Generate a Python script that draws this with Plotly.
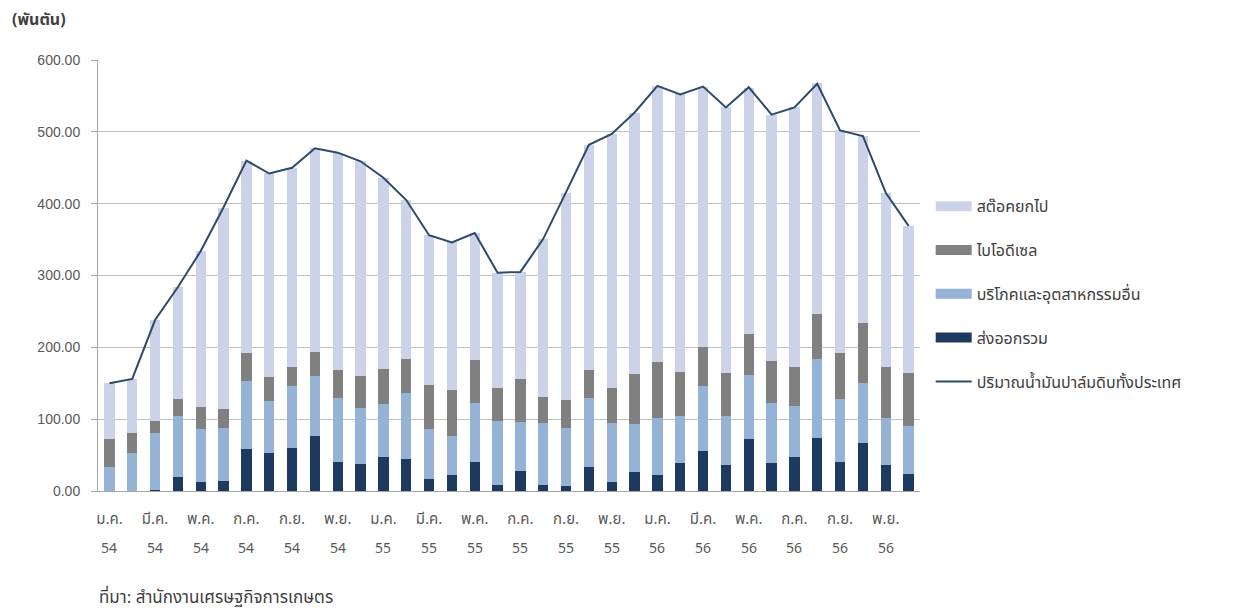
import plotly.graph_objects as go

months = ["ม.ค.", "ก.พ.", "มี.ค.", "เม.ย.", "พ.ค.", "มิ.ย.", "ก.ค.", "ส.ค.", "ก.ย.", "ต.ค.", "พ.ย.", "ธ.ค."]
years = ["54", "55", "56"]
categories = [f"{m} {y}" for y in years for m in months]

export_vals = [0, 0, 1, 19, 13, 14, 59, 53, 60, 77, 40, 37,
               47, 45, 17, 22, 41, 8, 28, 8, 7, 34, 13, 26,
               22, 39, 55, 36, 73, 39, 47, 74, 40, 67, 36, 24]
consume_vals = [33, 53.5, 79.5, 86, 73, 74, 94.5, 72.6, 86.5, 83.5, 88.8, 79,
                74, 92, 69, 54, 82, 90, 68, 87, 81, 95, 81, 67,
                80, 66, 91.5, 69, 88, 83.5, 71, 110, 88, 84, 65, 67]
biodiesel_vals = [39.5, 27, 17, 23.5, 31.5, 26.5, 38.5, 33.5, 26.5, 33.5, 39, 44.5,
                  49.5, 46.5, 61.5, 64.5, 59, 46, 60.5, 36.5, 38.5, 40, 49.5, 70.5,
                  77, 60, 54.5, 59, 58, 59, 54.5, 63, 63.5, 83, 72, 73]
stock_vals = [78, 75.5, 140, 156, 216, 280, 268, 283, 277, 283, 303, 298.5,
              265, 221, 208.5, 205.5, 177, 160, 148, 219, 289, 313, 353, 363,
              385, 387, 362, 370, 342.5, 342.5, 361.5, 320.5, 310.5, 260, 242, 205]
total_vals = [150, 156, 238, 284, 334, 395, 460, 442, 450, 477, 471, 459,
              436, 405, 356, 346, 359, 304, 305, 351, 416, 482, 497, 527,
              564, 552, 563, 534, 562, 524, 534, 567, 502, 494, 415, 369]

tick_cats = categories[::2]
tick_months = [c.split(" ")[0] for c in tick_cats]
tick_years = [c.split(" ")[1] for c in tick_cats]

FONT = "Tahoma, 'Noto Sans Thai', 'Leelawadee UI', Arial, sans-serif"
TXT = "#595959"

fig = go.Figure()
series = [
    ("ส่งออกรวม", export_vals, "#1F3A60", 4),
    ("บริโภคและอุตสาหกรรมอื่น", consume_vals, "#95B3D7", 3),
    ("ไบโอดีเซล", biodiesel_vals, "#808080", 2),
    ("สต๊อคยกไป", stock_vals, "#CCD3E8", 1),
]
for name, vals, color, rank in series:
    fig.add_trace(go.Bar(x=categories, y=vals, name=name, marker_color=color,
                         marker_line_width=0, showlegend=False, legendgroup=name))
    # legend swatch (wide rectangle like the original), carries no data
    fig.add_trace(go.Scatter(x=[None], y=[None], mode="lines", name=name,
                             line=dict(color=color, width=13), legendrank=rank,
                             legendgroup=name, hoverinfo="skip"))
fig.add_trace(go.Scatter(x=categories, y=total_vals, mode="lines",
                         name="ปริมาณน้ำมันปาล์มดิบทั้งประเทศ",
                         line=dict(color="#2E4A6B", width=2), legendrank=5,
                         legendgroup="line"))

for c, yv in zip(tick_cats, tick_years):
    fig.add_annotation(x=c, y=-0.133, xref="x", yref="paper", text=yv,
                       showarrow=False, font=dict(family=FONT, size=14, color=TXT),
                       yanchor="middle")

fig.add_annotation(x=-0.107, y=1.093, xref="paper", yref="paper", text="<b>(พันตัน)</b>",
                   showarrow=False, xanchor="left", yanchor="middle",
                   font=dict(family=FONT, size=16, color="#404040"))
fig.add_annotation(x=-0.001, y=-0.248, xref="paper", yref="paper",
                   text="ที่มา: สำนักงานเศรษฐกิจการเกษตร",
                   showarrow=False, xanchor="left", yanchor="middle",
                   font=dict(family=FONT, size=17, color="#404040"))

fig.update_layout(
    width=1242, height=613,
    barmode="stack", bargap=0.55,
    paper_bgcolor="white", plot_bgcolor="white",
    margin=dict(l=90, r=330, t=52, b=130),
    font=dict(family=FONT, size=13, color=TXT),
    legend=dict(x=1.013, y=0.70, xanchor="left", yanchor="top",
                font=dict(family=FONT, size=16, color="#404040"),
                tracegroupgap=20, itemwidth=36, bgcolor="rgba(0,0,0,0)"),
    xaxis=dict(type="category", tickmode="array", tickvals=tick_cats, ticktext=tick_months,
               showgrid=False, showline=True, linecolor="#A6A6A6", linewidth=1,
               ticks="", tickfont=dict(family=FONT, size=15, color=TXT), ticklabelstandoff=14,
               range=[-0.5, 35.5]),
    yaxis=dict(range=[0, 600], dtick=100, tickformat=".2f", showgrid=True,
               gridcolor="#BFBFBF", gridwidth=1, showline=True, linecolor="#A6A6A6",
               zeroline=False, tickfont=dict(family="Arial, 'Liberation Sans', sans-serif", size=14, color=TXT),
               ticks="outside", ticklen=6, tickcolor="#A6A6A6", ticklabelstandoff=8),
)

fig.write_html("out.html")
